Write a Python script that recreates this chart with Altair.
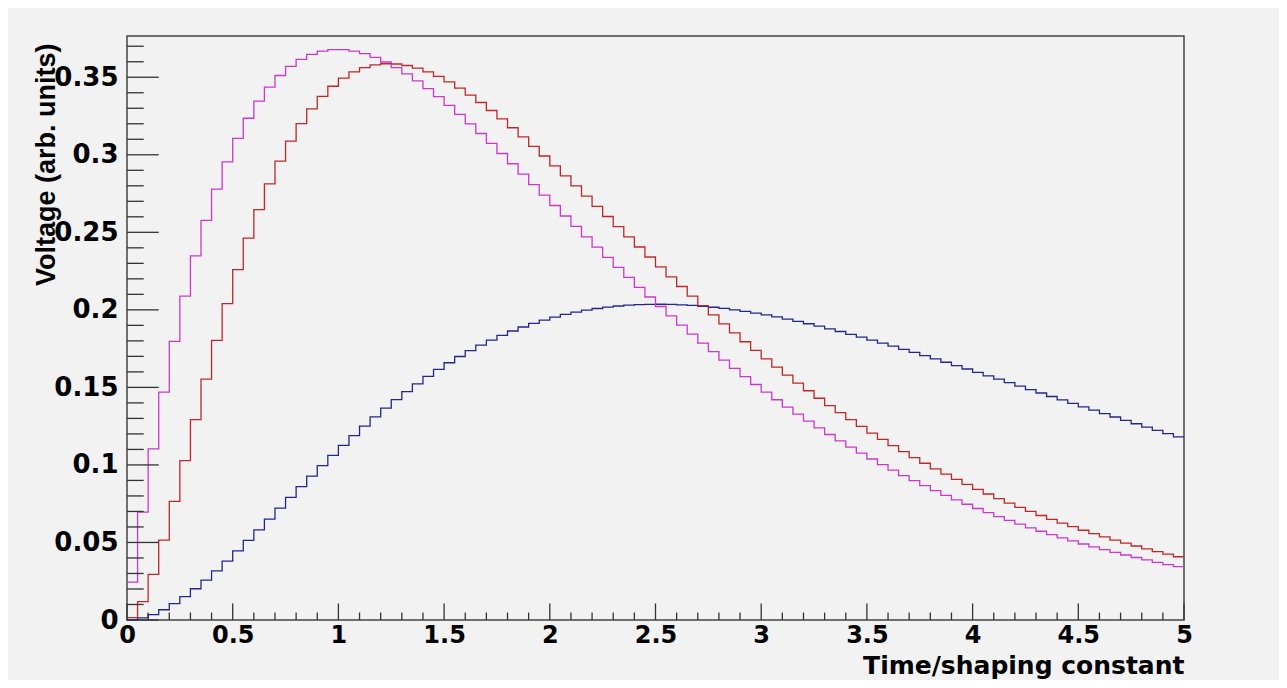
import altair as alt
import pandas as pd

# ---- data (100 bins of width 0.05 on 0..5) ----
bin_edges = [round(i * 0.05, 2) for i in range(101)]

magenta = [
    0.02438, 0.06958, 0.11031, 0.14690, 0.17967, 0.20888, 0.23482, 0.25773, 0.27785, 0.29540,
    0.31057, 0.32356, 0.33454, 0.34368, 0.35114, 0.35705, 0.36154, 0.36475, 0.36679, 0.36776,
    0.36777, 0.36690, 0.36523, 0.36286, 0.35985, 0.35627, 0.35219, 0.34766, 0.34272, 0.33745,
    0.33187, 0.32604, 0.31998, 0.31374, 0.30735, 0.30083, 0.29422, 0.28754, 0.28081, 0.27405,
    0.26729, 0.26053, 0.25380, 0.24710, 0.24045, 0.23386, 0.22735, 0.22091, 0.21456, 0.20830,
    0.20215, 0.19610, 0.19016, 0.18433, 0.17861, 0.17302, 0.16755, 0.16220, 0.15697, 0.15186,
    0.14689, 0.14203, 0.13730, 0.13270, 0.12821, 0.12385, 0.11961, 0.11549, 0.11148, 0.10759,
    0.10382, 0.10015, 0.09660, 0.09316, 0.08982, 0.08659, 0.08345, 0.08042, 0.07749, 0.07465,
    0.07190, 0.06924, 0.06667, 0.06419, 0.06179, 0.05947, 0.05723, 0.05507, 0.05299, 0.05097,
    0.04902, 0.04715, 0.04534, 0.04359, 0.04191, 0.04029, 0.03873, 0.03722, 0.03577, 0.03437,
]

red = [
    0.00147, 0.01183, 0.02938, 0.05156, 0.07651, 0.10275, 0.12927, 0.15531, 0.18033, 0.20398,
    0.22599, 0.24624, 0.26464, 0.28118, 0.29590, 0.30883, 0.32003, 0.32960, 0.33764, 0.34421,
    0.34945, 0.35342, 0.35621, 0.35795, 0.35870, 0.35855, 0.35759, 0.35589, 0.35349, 0.35052,
    0.34698, 0.34298, 0.33853, 0.33371, 0.32857, 0.32311, 0.31742, 0.31152, 0.30544, 0.29921,
    0.29287, 0.28643, 0.27993, 0.27337, 0.26679, 0.26020, 0.25363, 0.24707, 0.24055, 0.23407,
    0.22767, 0.22133, 0.21506, 0.20888, 0.20278, 0.19679, 0.19090, 0.18512, 0.17944, 0.17387,
    0.16844, 0.16310, 0.15790, 0.15281, 0.14784, 0.14300, 0.13827, 0.13367, 0.12918, 0.12481,
    0.12057, 0.11643, 0.11242, 0.10853, 0.10474, 0.10107, 0.09750, 0.09404, 0.09069, 0.08745,
    0.08429, 0.08124, 0.07829, 0.07543, 0.07267, 0.06999, 0.06740, 0.06490, 0.06250, 0.06015,
    0.05789, 0.05572, 0.05361, 0.05157, 0.04962, 0.04773, 0.04590, 0.04414, 0.04244, 0.04080,
]

blue = [
    0.00015, 0.00132, 0.00352, 0.00662, 0.01050, 0.01504, 0.02016, 0.02575, 0.03173, 0.03803,
    0.04458, 0.05131, 0.05817, 0.06511, 0.07208, 0.07905, 0.08597, 0.09282, 0.09956, 0.10617,
    0.11263, 0.11892, 0.12503, 0.13093, 0.13662, 0.14209, 0.14733, 0.15233, 0.15709, 0.16161,
    0.16588, 0.16991, 0.17369, 0.17723, 0.18052, 0.18357, 0.18638, 0.18896, 0.19131, 0.19343,
    0.19534, 0.19703, 0.19852, 0.19980, 0.20088, 0.20178, 0.20249, 0.20303, 0.20339, 0.20359,
    0.20363, 0.20352, 0.20326, 0.20286, 0.20234, 0.20168, 0.20090, 0.20001, 0.19901, 0.19792,
    0.19671, 0.19542, 0.19405, 0.19259, 0.19105, 0.18945, 0.18777, 0.18604, 0.18425, 0.18240,
    0.18051, 0.17857, 0.17659, 0.17458, 0.17252, 0.17044, 0.16833, 0.16620, 0.16404, 0.16187,
    0.15968, 0.15748, 0.15528, 0.15305, 0.15083, 0.14860, 0.14638, 0.14414, 0.14192, 0.13970,
    0.13749, 0.13528, 0.13308, 0.13090, 0.12872, 0.12655, 0.12441, 0.12227, 0.12015, 0.11805,
]

series_names = ["blue", "red", "magenta"]
series_colors = ["#25258e", "#c02828", "#cc38cc"]

x_major = [0, 0.5, 1, 1.5, 2, 2.5, 3, 3.5, 4, 4.5, 5]
x_minor = [round(i * 0.1, 1) for i in range(51) if i % 5 != 0]
y_major = [0, 0.05, 0.1, 0.15, 0.2, 0.25, 0.3, 0.35]
y_minor = [round(i * 0.01, 2) for i in range(38) if i % 5 != 0]

x_title = "Time/shaping constant"
y_title = "Voltage (arb. units)"

# ---- tables ----
rows = []
for name, vals in zip(series_names, [blue, red, magenta]):
    for e, v in zip(bin_edges, vals + [vals[-1]]):
        rows.append({"t": e, "v": v, "s": name})
df = pd.DataFrame(rows)

W, H = 1057, 584
x_scale = alt.Scale(domain=[0, 5], nice=False, zero=False)
y_scale = alt.Scale(domain=[0, 0.3766], nice=False, zero=False)

x_axis = alt.Axis(
    values=x_major, format="~g", title=x_title, ticks=False, tickSize=0,
    domain=False, grid=False, labelFont="DejaVu Sans", labelFontWeight="bold",
    labelFontSize=24, labelColor="black", labelPadding=22, labelBaseline="alphabetic",
    labelAlign="center", labelFlush=False, labelOverlap=False,
    titleFont="DejaVu Sans", titleFontWeight="bold", titleFontSize=25,
    titleColor="black", titleAlign="right", titleAnchor="end",
    titleX=W, titleY=53, titleBaseline="alphabetic",
)
y_axis = alt.Axis(
    values=y_major, format="~g", title=y_title, ticks=False, tickSize=0,
    domain=False, grid=False, labelFont="DejaVu Sans", labelFontWeight="bold",
    labelFontSize=26, labelColor="black", labelPadding=9, labelAlign="right",
    labelBaseline="middle", labelFlush=False, labelOverlap=False,
    titleFont="Liberation Sans", titleFontWeight="bold", titleFontSize=27,
    titleColor="black", titleAngle=-90, titleAlign="right", titleAnchor="end",
    titleX=-73, titleY=7, titleBaseline="alphabetic",
)

lines = alt.Chart(df).mark_line(interpolate="step-after", strokeWidth=1.3).encode(
    x=alt.X("t:Q", scale=x_scale, axis=x_axis),
    y=alt.Y("v:Q", scale=y_scale, axis=y_axis),
    color=alt.Color("s:N", scale=alt.Scale(domain=series_names, range=series_colors), legend=None),
    detail="s:N",
)

tick_color = "#333333"

def xticks(vals, length):
    return alt.Chart(pd.DataFrame({"t": vals})).mark_rule(color=tick_color, strokeWidth=1.3).encode(
        x=alt.X("t:Q", scale=x_scale, axis=x_axis),
        y=alt.value(H),
        y2=alt.value(H - length),
    )

def yticks(vals, length):
    return alt.Chart(pd.DataFrame({"v": vals})).mark_rule(color=tick_color, strokeWidth=1.3).encode(
        y=alt.Y("v:Q", scale=y_scale, axis=y_axis),
        x=alt.value(0),
        x2=alt.value(length),
    )

chart = alt.layer(
    lines,
    xticks(x_major, 16.5),
    xticks(x_minor, 7.5),
    yticks(y_major, 31.7),
    yticks(y_minor, 16.7),
).properties(
    width=W,
    height=H,
    autosize=alt.AutoSizeParams(type="none"),
    padding={"left": 119, "top": 28, "right": 95, "bottom": 60},
    background="#f2f2f2",
).configure_view(
    stroke="#444444",
    strokeWidth=1.5,
)

chart.save("out.html", embed_options={"renderer": "svg", "actions": False})
